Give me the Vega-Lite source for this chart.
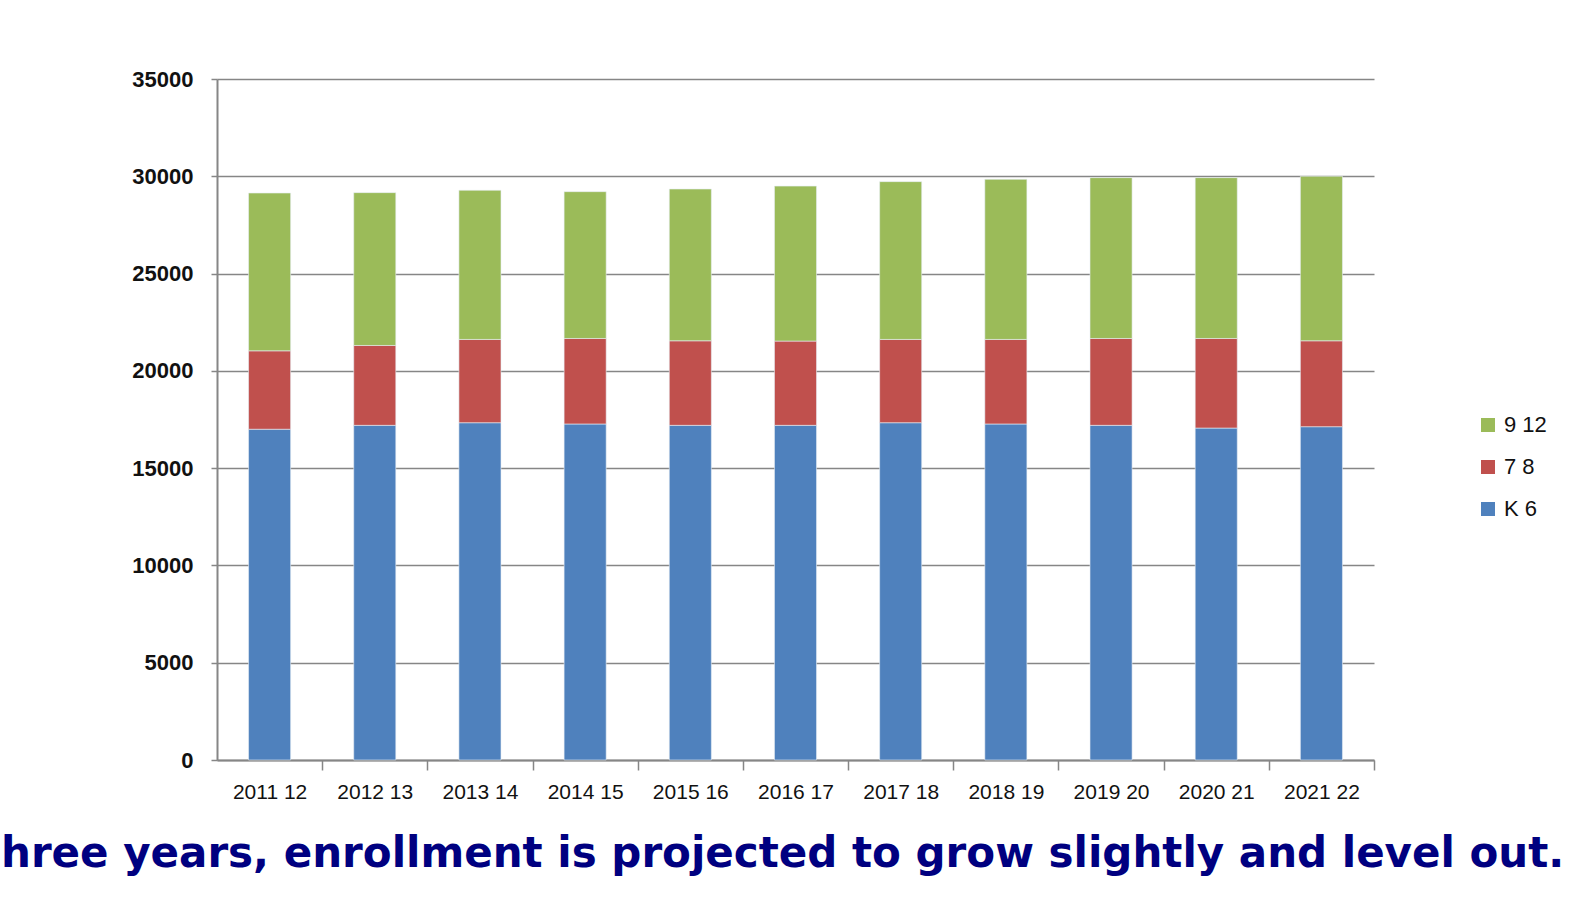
{
  "$schema": "https://vega.github.io/schema/vega-lite/v6.json",
  "autosize": {"type": "none"},
  "padding": {"left": 217, "top": 79, "right": 196, "bottom": 164},
  "width": 1157,
  "height": 681,
  "background": "white",
  "title": {
    "text": "hree years, enrollment is projected to grow slightly and level out.",
    "orient": "bottom",
    "anchor": "start",
    "frame": "group",
    "dx": -216,
    "offset": 32,
    "font": "DejaVu Sans",
    "fontSize": 42,
    "fontWeight": "bold",
    "color": "#000080"
  },
  "data": {
    "values": [
      {"year": "2011 12", "grade": "K 6", "level": 1, "students": 17000},
      {"year": "2011 12", "grade": "7 8", "level": 2, "students": 4030},
      {"year": "2011 12", "grade": "9 12", "level": 3, "students": 8110},
      {"year": "2012 13", "grade": "K 6", "level": 1, "students": 17200},
      {"year": "2012 13", "grade": "7 8", "level": 2, "students": 4105},
      {"year": "2012 13", "grade": "9 12", "level": 3, "students": 7855},
      {"year": "2013 14", "grade": "K 6", "level": 1, "students": 17335},
      {"year": "2013 14", "grade": "7 8", "level": 2, "students": 4280},
      {"year": "2013 14", "grade": "9 12", "level": 3, "students": 7665},
      {"year": "2014 15", "grade": "K 6", "level": 1, "students": 17270},
      {"year": "2014 15", "grade": "7 8", "level": 2, "students": 4395},
      {"year": "2014 15", "grade": "9 12", "level": 3, "students": 7545},
      {"year": "2015 16", "grade": "K 6", "level": 1, "students": 17200},
      {"year": "2015 16", "grade": "7 8", "level": 2, "students": 4345},
      {"year": "2015 16", "grade": "9 12", "level": 3, "students": 7800},
      {"year": "2016 17", "grade": "K 6", "level": 1, "students": 17200},
      {"year": "2016 17", "grade": "7 8", "level": 2, "students": 4330},
      {"year": "2016 17", "grade": "9 12", "level": 3, "students": 7965},
      {"year": "2017 18", "grade": "K 6", "level": 1, "students": 17335},
      {"year": "2017 18", "grade": "7 8", "level": 2, "students": 4280},
      {"year": "2017 18", "grade": "9 12", "level": 3, "students": 8110},
      {"year": "2018 19", "grade": "K 6", "level": 1, "students": 17270},
      {"year": "2018 19", "grade": "7 8", "level": 2, "students": 4345},
      {"year": "2018 19", "grade": "9 12", "level": 3, "students": 8230},
      {"year": "2019 20", "grade": "K 6", "level": 1, "students": 17200},
      {"year": "2019 20", "grade": "7 8", "level": 2, "students": 4465},
      {"year": "2019 20", "grade": "9 12", "level": 3, "students": 8265},
      {"year": "2020 21", "grade": "K 6", "level": 1, "students": 17060},
      {"year": "2020 21", "grade": "7 8", "level": 2, "students": 4605},
      {"year": "2020 21", "grade": "9 12", "level": 3, "students": 8265},
      {"year": "2021 22", "grade": "K 6", "level": 1, "students": 17130},
      {"year": "2021 22", "grade": "7 8", "level": 2, "students": 4415},
      {"year": "2021 22", "grade": "9 12", "level": 3, "students": 8455}
    ]
  },
  "mark": {"type": "bar", "stroke": "#e8eef5", "strokeWidth": 0.6},
  "encoding": {
    "x": {
      "field": "year",
      "type": "nominal",
      "sort": null,
      "scale": {"paddingInner": 0.6, "paddingOuter": 0.3},
      "axis": {
        "title": null,
        "labelAngle": 0,
        "bandPosition": 1,
        "tickOffset": 31.55,
        "labelOffset": -31.55,
        "labelFont": "Liberation Sans",
        "labelFontSize": 21,
        "labelColor": "#111111",
        "labelPadding": 11,
        "tickSize": 10,
        "tickColor": "#868686",
        "tickWidth": 1.5,
        "domainColor": "#868686",
        "domainWidth": 2,
        "grid": false
      }
    },
    "y": {
      "field": "students",
      "type": "quantitative",
      "aggregate": "sum",
      "stack": "zero",
      "scale": {"domain": [0, 35000], "nice": false},
      "axis": {
        "title": null,
        "values": [0, 5000, 10000, 15000, 20000, 25000, 30000, 35000],
        "format": "d",
        "labelFont": "Liberation Sans",
        "labelFontSize": 22,
        "labelFontWeight": "bold",
        "labelColor": "#111111",
        "labelPadding": 18,
        "tickSize": 6,
        "tickColor": "#868686",
        "tickWidth": 1.5,
        "domainColor": "#868686",
        "domainWidth": 2,
        "grid": true,
        "gridColor": "#868686",
        "gridWidth": 1.3
      }
    },
    "color": {
      "field": "grade",
      "type": "nominal",
      "sort": ["9 12", "7 8", "K 6"],
      "scale": {"domain": ["9 12", "7 8", "K 6"], "range": ["#9BBB59", "#C0504D", "#4F81BD"]},
      "legend": {
        "title": null,
        "orient": "none",
        "legendX": 1260,
        "legendY": 335,
        "symbolType": "square",
        "symbolSize": 196,
        "symbolStrokeWidth": 0,
        "labelFont": "Liberation Sans",
        "labelFontSize": 22,
        "labelColor": "#111111",
        "labelOffset": 5,
        "rowPadding": 20
      }
    },
    "order": {"field": "level", "type": "quantitative", "sort": "ascending"}
  },
  "config": {"view": {"stroke": null}}
}
